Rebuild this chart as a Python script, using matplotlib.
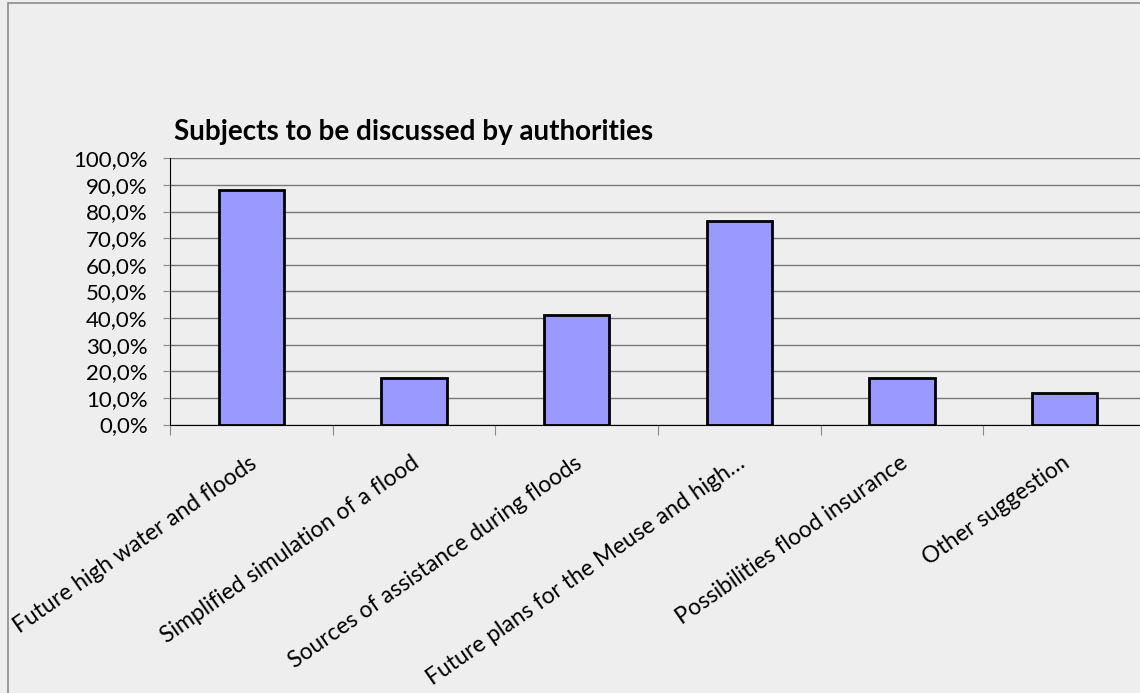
import numpy as np
import matplotlib
matplotlib.use("Agg")
import matplotlib.pyplot as plt
from matplotlib.patches import Rectangle
from matplotlib.ticker import FuncFormatter

# ===== 数据 =====
categories = [
    "Future high water and floods",
    "Simplified simulation of a flood",
    "Sources of assistance during floods",
    "Future plans for the Meuse and high…",
    "Possibilities flood insurance",
    "Other suggestion",
]
shares = [88.2, 17.6, 41.2, 76.5, 17.6, 11.8]
y_ticks = np.arange(0, 101, 10)

plt.rcParams["font.family"] = ["Lato", "DejaVu Sans"]

W, H = 1140, 693
fig = plt.figure(figsize=(W / 100, H / 100), dpi=100)
fig.patch.set_facecolor("#eeeeee")

# 外框（右/下被裁掉）
fig.add_artist(Rectangle((8 / W, -0.1), 1.2, 1 - 3 / H + 0.1, transform=fig.transFigure,
                         facecolor="none", edgecolor="#8c8c8c", lw=1.2))

left, right, top, bottom = 170, 1146, 158.3, 424.5
ax = fig.add_axes([left / W, 1 - bottom / H, (right - left) / W, (bottom - top) / H])
ax.set_facecolor("#eeeeee")

x = np.arange(len(categories))
ax.bar(x, shares, width=0.4, color="#9999ff", edgecolor="black", linewidth=2, zorder=3)

ax.set_xlim(-0.5, len(categories) - 0.5)
ax.set_ylim(0, 100)
ax.set_yticks(y_ticks)
ax.yaxis.set_major_formatter(FuncFormatter(lambda v, p: f"{v:.1f}%".replace(".", ",")))
ax.grid(axis="y", color="#777777", lw=1, zorder=0)

ax.set_xticks(np.arange(-0.5, len(categories), 1), minor=False)
ax.set_xticklabels([])
ax.tick_params(axis="x", length=7, color="#888888", direction="out")
ax.tick_params(axis="y", length=5, color="#888888", direction="out", labelsize=16, pad=11)

for sp in ["top", "right"]:
    ax.spines[sp].set_visible(False)
ax.spines["left"].set_color("black")
ax.spines["bottom"].set_color("black")

for i, lab in enumerate(categories):
    ax.annotate(lab, xy=(i, 0), xycoords="data", xytext=(-2, -20), textcoords="offset points",
                rotation=35, ha="right", va="top", rotation_mode="anchor", fontsize=16.5)

fig.text(174 / W, 1 - 132 / H, "Subjects to be discussed by authorities",
         fontsize=20, fontweight="bold", va="center", ha="left")

fig.savefig("out.png", dpi=100, facecolor=fig.get_facecolor())
